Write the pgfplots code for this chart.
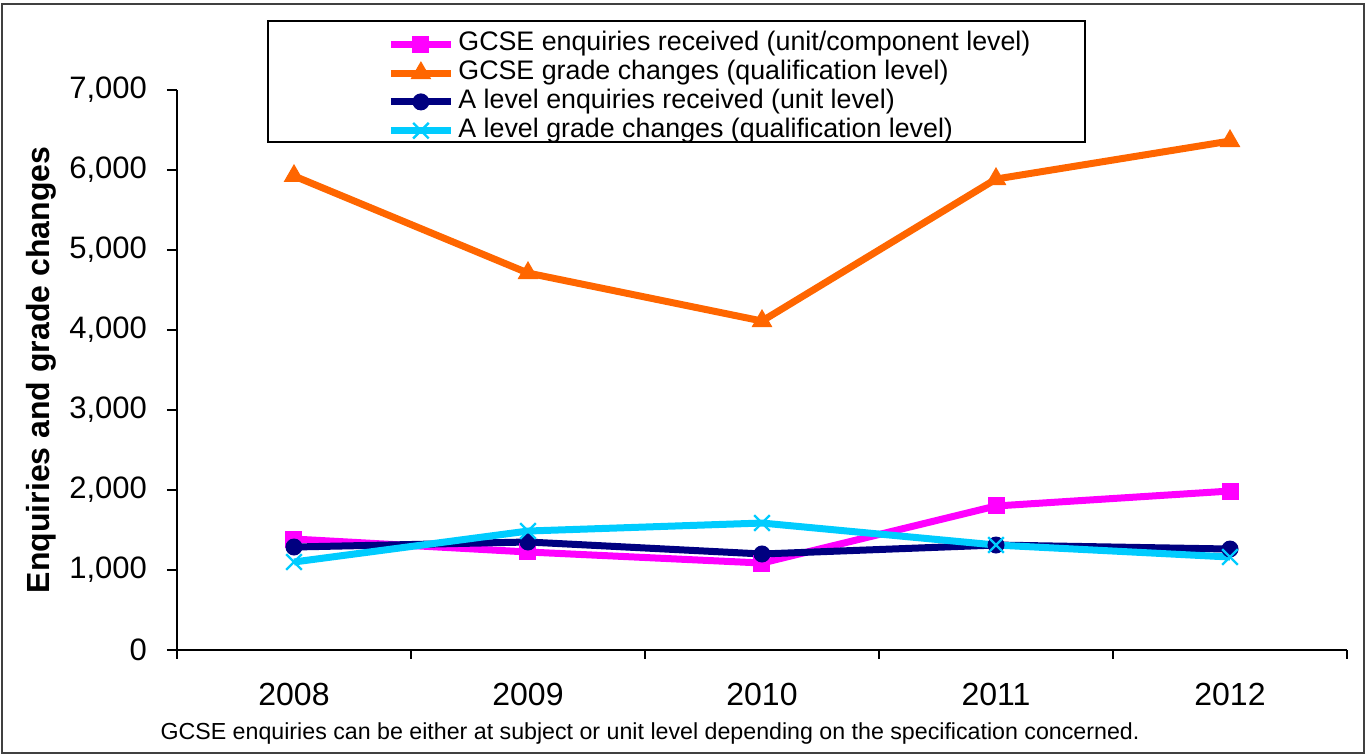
\documentclass[border=0pt]{standalone}
\usepackage{fontspec}
\setmainfont{Liberation Sans}
\usepackage{pgfplots}
\pgfplotsset{compat=1.18}
\definecolor{gcseenq}{RGB}{255,0,255}
\definecolor{gcsegrade}{RGB}{255,102,0}
\definecolor{aenq}{RGB}{0,0,128}
\definecolor{agrade}{RGB}{0,204,255}

\begin{document}
\begin{tikzpicture}
\useasboundingbox (-88.5pt,-52pt) rectangle (595pt,325pt);
\draw[line width=0.8pt, black!75] (-87.5pt,-51.5pt) rectangle (593.5pt,323pt);
\draw[line width=0.6pt, black] (45.5pt,254pt) rectangle (454pt,314.5pt);
\begin{axis}[
  scale only axis,
  width=585pt, height=280pt,
  xmin=-0.5, xmax=4.5,
  ymin=0, ymax=7000,
  axis x line*=bottom, axis y line*=left,
  axis line style={line width=0.6pt},
  xtick={0,1,2,3,4},
  xticklabels={2008,2009,2010,2011,2012},
  major x tick style={draw=none},
  minor xtick={-0.5,0.5,1.5,2.5,3.5,4.5},
  minor tick length=4.5pt,
  ytick={0,1000,...,7000},
  tick align=outside,
  major tick length=5pt,
  tick style={black, line width=0.6pt},
  /pgf/number format/assume math mode=true,
  /pgf/number format/1000 sep={,},
  scaled y ticks=false,
  yticklabel style={font=\fontsize{15.5}{18}\selectfont, xshift=-6.5pt},
  xticklabel style={font=\fontsize{16}{18}\selectfont, yshift=-8pt},
  ylabel={\bfseries Enquiries and grade changes},
  ylabel style={font=\fontsize{16}{18}\selectfont, at={(-0.097,0.5)}},
  legend style={draw=none, fill=none, inner sep=0pt, at={(0.1795,1.108)}, anchor=north west,
    font=\fontsize{13.4}{14}\selectfont, cells={anchor=west}, row sep=0pt,
    nodes={text height=10pt, text depth=3.4pt, inner ysep=0.5pt}},
  legend image code/.code={\draw[mark repeat=2,mark phase=2] plot coordinates {(0pt,0pt) (15pt,0pt) (30pt,0pt)};},
  clip=false,
]
\addplot[gcseenq, line width=3.5pt, mark=square*, mark size=4pt, mark options={solid, line width=0.5pt}]
  coordinates {(0,1387) (1,1225) (2,1087) (3,1800) (4,1987)};
\addlegendentry{GCSE enquiries received (unit/component level)}
\addplot[gcsegrade, line width=3.5pt, mark=triangle*, mark size=5.5pt, mark options={solid, line width=0.5pt}]
  coordinates {(0,5925) (1,4712) (2,4112) (3,5887) (4,6362)};
\addlegendentry{GCSE grade changes (qualification level)}
\addplot[aenq, line width=3.5pt, mark=*, mark size=4pt, mark options={solid, line width=0.5pt}]
  coordinates {(0,1287) (1,1350) (2,1200) (3,1312) (4,1262)};
\addlegendentry{A level enquiries received (unit level)}
\addplot[agrade, line width=3.5pt, mark=x, mark size=5.5pt, mark options={solid, line width=1.2pt}]
  coordinates {(0,1100) (1,1487) (2,1587) (3,1312) (4,1162)};
\addlegendentry{A level grade changes (qualification level)}
\end{axis}
\node[font=\fontsize{11.6}{13}\selectfont] at (236.5pt,-42pt) {GCSE enquiries can be either at subject or unit level depending on the specification concerned.};
\end{tikzpicture}
\end{document}
